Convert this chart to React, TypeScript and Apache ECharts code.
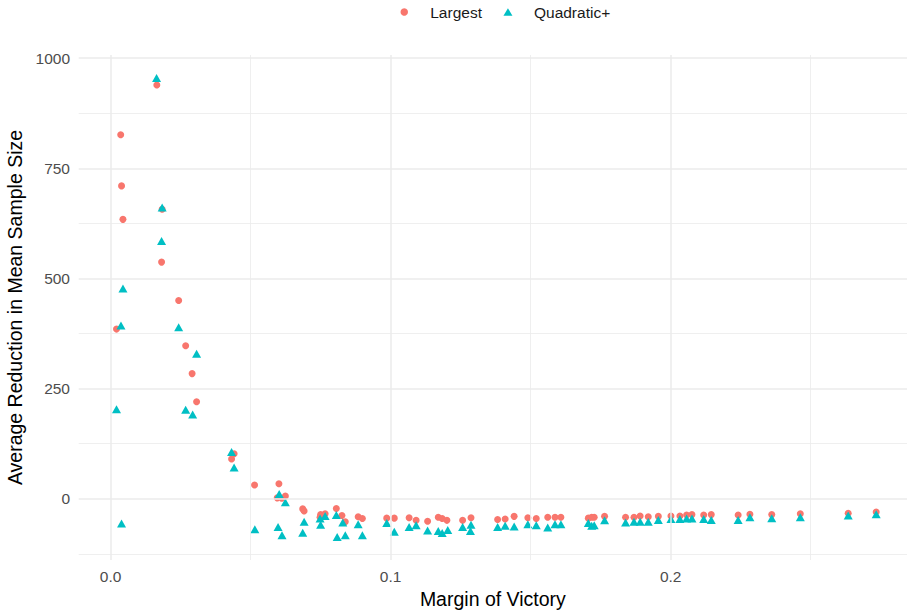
import React, { useEffect, useRef } from "react";
import * as echarts from "echarts";

const largestX = [0.0165,0.0036,0.0039,0.0184,0.0044,0.0182,0.0243,0.0021,0.0268,0.0291,0.0307,0.0441,0.0432,0.0514,0.0601,0.0595,0.0611,0.0624,0.0686,0.0691,0.0750,0.0766,0.0748,0.0806,0.0826,0.0838,0.0884,0.0899,0.0986,0.1013,0.1066,0.1091,0.1132,0.1170,0.1184,0.1201,0.1257,0.1287,0.1382,0.1409,0.1441,0.1490,0.1520,0.1561,0.1587,0.1608,0.1706,0.1718,0.1727,0.1764,0.1839,0.1869,0.1891,0.1920,0.1956,0.2001,0.2033,0.2057,0.2076,0.2118,0.2145,0.2241,0.2283,0.2361,0.2463,0.2634,0.2734];
const largestY = [939,826,710,657,634,537,450,385,347,284,220,102,90,31,34,2,1,6,-23,-28,-36,-34,-42,-22,-38,-52,-41,-45,-44,-44,-43,-49,-51,-42,-45,-49,-49,-43,-47,-46,-40,-43,-45,-42,-42,-42,-44,-42,-42,-40,-42,-42,-39,-41,-40,-39,-39,-37,-36,-37,-36,-37,-35,-36,-34,-33,-30];

const quadX = [0.0164,0.0184,0.0182,0.0044,0.0037,0.0243,0.0307,0.0021,0.0268,0.0293,0.0432,0.0441,0.0602,0.0624,0.0039,0.0515,0.0598,0.0612,0.0691,0.0686,0.0748,0.0766,0.0750,0.0806,0.0829,0.0809,0.0838,0.0884,0.0899,0.0986,0.1013,0.1066,0.1091,0.1132,0.1170,0.1184,0.1204,0.1257,0.1287,0.1285,0.1382,0.1409,0.1441,0.1490,0.1520,0.1561,0.1587,0.1608,0.1706,0.1718,0.1727,0.1764,0.1839,0.1869,0.1891,0.1920,0.1956,0.2001,0.2033,0.2057,0.2076,0.2118,0.2145,0.2241,0.2283,0.2361,0.2463,0.2634,0.2734];
const quadY = [955,661,585,477,393,389,329,203,202,191,106,71,11,-8,-56,-69,-64,-83,-52,-77,-45,-39,-59,-37,-54,-87,-83,-58,-83,-55,-75,-64,-60,-72,-73,-78,-71,-64,-59,-73,-64,-61,-63,-58,-60,-65,-58,-58,-55,-61,-60,-49,-54,-52,-52,-52,-48,-46,-46,-45,-45,-46,-48,-48,-42,-44,-42,-38,-35];

const xTickLabels = [0, 0.1, 0.2];
const yTickLabels = [0, 250, 500, 750, 1000];
const xMinorGrid = [0.05, 0.15, 0.25];
const yMinorGrid = [-125, 125, 375, 625, 875];

const FONT = "Liberation Sans, Arial, Helvetica, sans-serif";

export default function App() {
  const ref = useRef<HTMLDivElement>(null);
  useEffect(() => {
    document.body.style.margin = "0";
    if (!ref.current) return;
    const chart = echarts.init(ref.current, null, { renderer: "svg" });
    const major = { type: "solid", color: "#EBEBEB", width: 1.5 };
    const minor = { type: "solid", color: "#EBEBEB", width: 0.8 };
    const gridLines = [
      ...xTickLabels.map((v) => ({ xAxis: v, lineStyle: major })),
      ...xMinorGrid.map((v) => ({ xAxis: v, lineStyle: minor })),
      ...yTickLabels.map((v) => ({ yAxis: v, lineStyle: major })),
      ...yMinorGrid.map((v) => ({ yAxis: v, lineStyle: minor })),
    ];
    chart.setOption({
      animation: false,
      backgroundColor: "#ffffff",
      textStyle: { fontFamily: FONT },
      grid: {
        left: 78.7,
        right: 0,
        top: 55,
        bottom: 52,
        containLabel: false,
        outerBoundsMode: "none",
      },
      legend: {
        data: [
          { name: "Largest", icon: "circle" },
          { name: "Quadratic+", icon: "triangle" },
        ],
        left: 400.5,
        top: 4,
        padding: 0,
        itemWidth: 9,
        itemHeight: 7.5,
        itemGap: 21.5,
        textStyle: {
          fontSize: 15.5,
          color: "#1a1a1a",
          fontFamily: FONT,
          padding: [0, 0, 0, 16.5],
        },
      },
      xAxis: {
        type: "value",
        min: -0.0114,
        max: 0.2844,
        name: "Margin of Victory",
        nameLocation: "middle",
        nameGap: 25,
        nameTextStyle: { fontSize: 19.5, color: "#000", fontFamily: FONT },
        axisLine: { show: false },
        axisTick: { show: false },
        splitLine: { show: false },
        axisLabel: {
          customValues: xTickLabels,
          formatter: (v: number) => v.toFixed(1),
          fontSize: 15.5,
          color: "#4D4D4D",
          margin: 8,
          fontFamily: FONT,
        },
      },
      yAxis: {
        type: "value",
        min: -139,
        max: 1007,
        name: "Average Reduction in Mean Sample Size",
        nameLocation: "middle",
        nameGap: 47,
        nameTextStyle: { fontSize: 19.5, color: "#000", fontFamily: FONT },
        axisLine: { show: false },
        axisTick: { show: false },
        splitLine: { show: false },
        axisLabel: {
          customValues: yTickLabels,
          formatter: (v: number) => String(v),
          fontSize: 15.5,
          color: "#4D4D4D",
          margin: 8.7,
          fontFamily: FONT,
        },
      },
      series: [
        {
          name: "grid",
          type: "scatter",
          data: [],
          z: 1,
          silent: true,
          markLine: {
            silent: true,
            symbol: ["none", "none"],
            label: { show: false },
            emphasis: { disabled: true },
            data: gridLines,
          },
        },
        {
          name: "Largest",
          type: "scatter",
          z: 2,
          symbol: "circle",
          symbolSize: 7,
          itemStyle: { color: "#F8766D", opacity: 1 },
          data: largestX.map((x, i) => [x, largestY[i]]),
        },
        {
          name: "Quadratic+",
          type: "scatter",
          z: 3,
          symbol: "triangle",
          symbolSize: [9, 8],
          itemStyle: { color: "#00BFC4", opacity: 1 },
          data: quadX.map((x, i) => [x, quadY[i]]),
        },
      ],
    });
    return () => chart.dispose();
  }, []);
  return <div ref={ref} style={{ width: 907, height: 612 }} />;
}
